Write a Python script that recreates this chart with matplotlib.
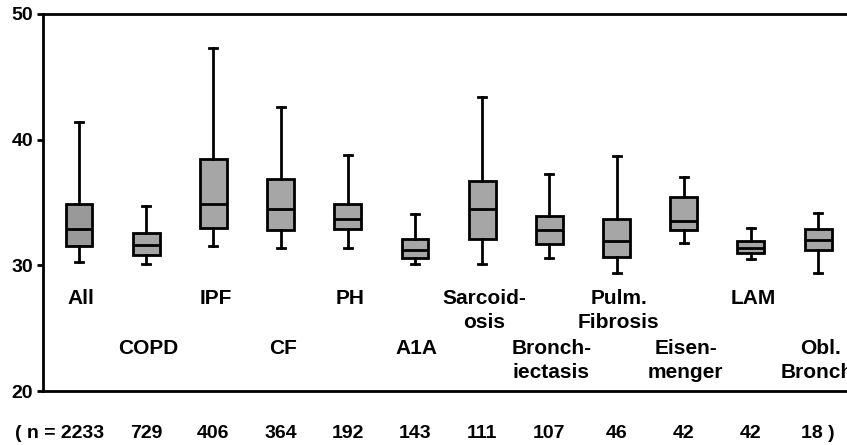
import numpy as np
import matplotlib.pyplot as plt

plt.rcParams['font.family'] = ['Liberation Sans', 'DejaVu Sans']
plt.rcParams['font.weight'] = 'bold'

# Data
labels = ["All", "COPD", "IPF", "CF", "PH", "A1A", "Sarcoid-\nosis", "Bronch-\niectasis",
          "Pulm.\nFibrosis", "Eisen-\nmenger", "LAM", "Obl.\nBronch."]
n_counts = ["( n = 2233", "729", "406", "364", "192", "143", "111", "107", "46", "42", "42", "18 )"]
whis_hi = [41.4, 34.7, 47.3, 42.6, 38.8, 34.1, 43.4, 37.3, 38.7, 37.0, 33.0, 34.2]
q3 = [34.9, 32.6, 38.5, 36.9, 34.9, 32.1, 36.7, 33.9, 33.7, 35.4, 31.9, 32.9]
median = [32.9, 31.6, 34.9, 34.5, 33.7, 31.2, 34.5, 32.8, 31.9, 33.5, 31.4, 32.0]
q1 = [31.5, 30.8, 33.0, 32.8, 32.9, 30.6, 32.1, 31.7, 30.7, 32.8, 31.0, 31.2]
whis_lo = [30.3, 30.1, 31.5, 31.4, 31.4, 30.1, 30.1, 30.6, 29.4, 31.8, 30.5, 29.4]

stats = []
for i in range(len(labels)):
    stats.append(dict(med=median[i], q1=q1[i], q3=q3[i],
                      whislo=whis_lo[i], whishi=whis_hi[i], fliers=[]))

fig = plt.figure(figsize=(8.47, 4.45), dpi=100)
ax = fig.add_axes([43/847, 54/445, 804/847, 377/445])

pos = np.arange(1, len(labels) + 1)
lw = 2.0
bp = ax.bxp(stats, positions=pos, widths=0.40, capwidths=0.12, patch_artist=True,
            boxprops=dict(linewidth=lw, edgecolor='black'),
            medianprops=dict(linewidth=lw, color='black'),
            whiskerprops=dict(linewidth=lw, color='black'),
            capprops=dict(linewidth=lw, color='black'))
for i, b in enumerate(bp['boxes']):
    b.set_facecolor('#999999' if i == 0 else '#a6a6a6')

ax.set_xlim(0.464, 12.43)
ax.set_ylim(20, 50)
ax.set_yticks([20, 30, 40, 50])
ax.set_xticks([])
ax.spines['right'].set_visible(False)
for s in ['left', 'top', 'bottom']:
    ax.spines[s].set_linewidth(2)
ax.tick_params(axis='y', length=4, width=2, labelsize=14, pad=3)

# category labels, alternating rows (last one runs off the right edge, as in the original)
for i, lab in enumerate(labels):
    y = 28.1 if i % 2 == 0 else 24.15
    ax.text(pos[i] + 0.03, y, lab, ha='center', va='top', fontsize=15,
            fontweight='bold', linespacing=1.35, clip_on=False)

# n counts below axis
for i, t in enumerate(n_counts):
    if i == 0:
        ax.text(pos[i] + 0.38, 16.6, t, ha='right', va='center', fontsize=14,
                fontweight='bold', clip_on=False)
    else:
        ax.text(pos[i], 16.6, t, ha='center', va='center', fontsize=14,
                fontweight='bold', clip_on=False)

fig.savefig("out.png", dpi=100)
